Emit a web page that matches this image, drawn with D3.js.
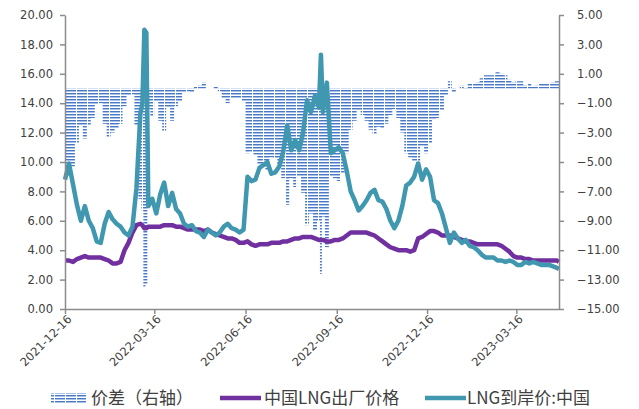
<!DOCTYPE html>
<html>
<head>
<meta charset="utf-8">
<script src="https://cdn.jsdelivr.net/npm/d3@7"></script>
<style>
  html, body { margin: 0; padding: 0; background: #fff; }
  svg { display: block; }
</style>
</head>
<body>
<div id="chart"></div>
<script>
// dates sampled every ~4 days (extra points around the two spikes)
const dates = [
  "2021-12-16","2021-12-20","2021-12-24","2021-12-28",
  "2022-01-01","2022-01-05","2022-01-09","2022-01-13","2022-01-17","2022-01-21","2022-01-25","2022-01-29",
  "2022-02-02","2022-02-06","2022-02-10","2022-02-14","2022-02-18","2022-02-22","2022-02-26",
  "2022-03-02","2022-03-04","2022-03-06","2022-03-08","2022-03-10","2022-03-14","2022-03-18","2022-03-22","2022-03-26","2022-03-30",
  "2022-04-03","2022-04-07","2022-04-11","2022-04-15","2022-04-19","2022-04-23","2022-04-27",
  "2022-05-01","2022-05-05","2022-05-09","2022-05-13","2022-05-17","2022-05-21","2022-05-25","2022-05-29",
  "2022-06-02","2022-06-06","2022-06-10","2022-06-14","2022-06-18","2022-06-22","2022-06-26","2022-06-30",
  "2022-07-04","2022-07-08","2022-07-12","2022-07-16","2022-07-20","2022-07-24","2022-07-28",
  "2022-08-01","2022-08-05","2022-08-09","2022-08-13","2022-08-17","2022-08-21","2022-08-25","2022-08-29","2022-08-31",
  "2022-09-02","2022-09-06","2022-09-10","2022-09-14","2022-09-18","2022-09-22","2022-09-26","2022-09-30",
  "2022-10-04","2022-10-08","2022-10-12","2022-10-16","2022-10-20","2022-10-24","2022-10-28",
  "2022-11-01","2022-11-05","2022-11-09","2022-11-13","2022-11-17","2022-11-21","2022-11-25","2022-11-29",
  "2022-12-03","2022-12-07","2022-12-11","2022-12-15","2022-12-19","2022-12-23","2022-12-27","2022-12-31",
  "2023-01-04","2023-01-08","2023-01-12","2023-01-16","2023-01-20","2023-01-24","2023-01-28",
  "2023-02-01","2023-02-05","2023-02-09","2023-02-13","2023-02-17","2023-02-21","2023-02-25",
  "2023-03-01","2023-03-05","2023-03-09","2023-03-13","2023-03-17","2023-03-21","2023-03-25","2023-03-29",
  "2023-04-02","2023-04-06","2023-04-10","2023-04-14","2023-04-18","2023-04-22","2023-04-26","2023-04-28"
];

// LNG到岸价:中国 (left axis)
const lngLanded = [
  8.8, 9.9, 8.5, 7.1,
  6.0, 7.0, 6.0, 5.5, 4.6, 4.5, 5.8, 6.6,
  6.1, 5.8, 5.6, 5.2, 5.0, 5.6, 8.2,
  13.3, 14.0, 19.0, 18.8, 7.0, 7.5, 6.5, 7.8, 8.6, 7.0,
  7.9, 6.8, 6.5, 5.8, 5.6, 5.7, 5.3,
  5.2, 4.9, 5.4, 5.2, 5.0, 5.2, 5.6, 5.8,
  5.5, 5.4, 5.2, 5.4, 9.0, 8.7, 8.8, 9.6,
  9.8, 10.0, 9.2, 9.3, 9.7, 10.7, 12.5,
  10.8, 11.5, 10.8, 12.0, 14.2, 13.4, 14.5, 13.7, 17.3,
  13.4, 15.4, 10.6, 10.8, 11.0, 10.6, 9.4, 8.0,
  7.4, 6.7, 7.0, 7.4, 7.9, 8.1, 7.4,
  7.3, 6.8, 6.0, 5.5, 6.0, 7.0, 8.4, 8.6,
  9.0, 9.9, 8.8, 9.5, 9.0, 7.4, 7.2, 6.5,
  5.5, 4.5, 5.2, 4.8, 4.5, 4.7, 4.3,
  4.2, 4.0, 3.7, 3.5, 3.5, 3.5, 3.3,
  3.3, 3.2, 3.3, 3.2, 3.0, 3.0, 3.2, 3.1,
  3.2, 3.1, 3.0, 3.0, 3.0, 2.9, 2.8, 2.7
];

// 中国LNG出厂价格 (left axis)
const lngExFactory = [
  3.3, 3.3, 3.2, 3.4,
  3.5, 3.6, 3.5, 3.5, 3.5, 3.5, 3.4, 3.3,
  3.1, 3.1, 3.2, 4.0, 4.5, 5.2, 5.7,
  5.8, 5.7, 5.5, 5.5, 5.6, 5.6, 5.6, 5.6, 5.7, 5.7,
  5.7, 5.6, 5.6, 5.5, 5.4, 5.4, 5.4,
  5.4, 5.3, 5.4, 5.2, 5.1, 5.0, 4.9, 4.8,
  4.8, 4.7, 4.5, 4.5, 4.6, 4.4, 4.3, 4.4,
  4.4, 4.4, 4.5, 4.5, 4.5, 4.6, 4.6,
  4.7, 4.8, 4.8, 4.9, 4.9, 4.9, 4.8, 4.7, 4.7,
  4.7, 4.6, 4.6, 4.7, 4.7, 4.8, 5.0, 5.2,
  5.2, 5.2, 5.2, 5.2, 5.1, 5.0, 4.8,
  4.6, 4.4, 4.2, 4.1, 4.0, 4.0, 4.0, 3.9,
  4.0, 4.8, 4.9, 5.1, 5.3, 5.3, 5.2, 5.0,
  5.0, 5.0, 4.9, 4.8, 4.7, 4.6, 4.6,
  4.5, 4.4, 4.4, 4.4, 4.4, 4.4, 4.4,
  4.3, 4.1, 3.9, 3.6, 3.5, 3.5, 3.4, 3.4,
  3.3, 3.3, 3.3, 3.3, 3.3, 3.3, 3.3, 3.2
];

// 价差 (right axis)
const spread = [
  -5.5, -6.0, -5.3, -3.7,
  -2.5, -3.4, -2.5, -2.0, -1.1, -1.0, -2.4, -3.3,
  -3.0, -2.7, -2.4, -1.2, -0.5, -0.4, -2.5,
  -7.5, -8.3, -13.5, -13.3, -1.4, -1.9, -0.9, -2.2, -2.9, -1.3,
  -2.2, -1.2, -0.9, -0.3, -0.2, -0.3, 0.1,
  0.2, 0.4, 0.0, 0.0, 0.1, -0.2, -0.7, -1.0,
  -0.7, -0.7, -0.7, -0.9, -4.4, -4.3, -4.5, -5.2,
  -5.4, -5.6, -4.7, -4.8, -5.2, -6.1, -7.9,
  -6.1, -6.7, -6.0, -7.1, -9.3, -8.5, -9.7, -9.0, -12.6,
  -8.7, -10.8, -6.0, -6.1, -6.3, -5.8, -4.4, -2.8,
  -2.2, -1.5, -1.8, -2.2, -2.8, -3.1, -2.6,
  -2.7, -2.4, -1.8, -1.4, -2.0, -3.0, -4.4, -4.7,
  -5.0, -5.1, -3.9, -4.4, -3.7, -2.1, -2.0, -1.5,
  -0.5, 0.5, -0.3, 0.0, 0.2, -0.1, 0.3,
  0.3, 0.4, 0.7, 0.9, 0.9, 0.9, 1.1,
  1.0, 0.9, 0.6, 0.4, 0.5, 0.5, 0.2, 0.3,
  0.1, 0.2, 0.3, 0.3, 0.3, 0.4, 0.5, 0.5
];

const xTickDates = ["2021-12-16", "2022-03-16", "2022-06-16", "2022-09-16", "2022-12-16", "2023-03-16"];
const leftTicks = [0, 2, 4, 6, 8, 10, 12, 14, 16, 18, 20];
const rightTicks = [-15, -13, -11, -9, -7, -5, -3, -1, 1, 3, 5];
const seriesNames = ["价差（右轴）", "中国LNG出厂价格", "LNG到岸价:中国"];

const W = 639, H = 409;
const plot = { left: 65, right: 559, top: 15, bottom: 309 };
const axisColor = "#8c8c8c";
const textColor = "#404040";
const purple = "#7030a0";
const teal = "#3f97b0";
const numFont = "'DejaVu Sans', sans-serif";
const cjkFont = "'Noto Sans CJK SC', 'Noto Sans', sans-serif";

const parse = d3.timeParse("%Y-%m-%d");
const rows = dates.map((d, i) => ({
  date: parse(d),
  landed: lngLanded[i],
  factory: lngExFactory[i],
  spread: spread[i]
}));

const svg = d3.select("#chart").append("svg")
  .attr("width", W)
  .attr("height", H)
  .style("background", "#fff");

// hatched fill used by the spread bars
const defs = svg.append("defs");
const pat = defs.append("pattern")
  .attr("id", "hatch")
  .attr("patternUnits", "userSpaceOnUse")
  .attr("width", 11)
  .attr("height", 3);
pat.append("rect").attr("width", 11).attr("height", 3).attr("fill", "#fff");
pat.append("rect").attr("y", 0).attr("width", 10).attr("height", 1).attr("fill", "#4a78c4");
pat.append("rect").attr("y", 1).attr("width", 10).attr("height", 1).attr("fill", "#a9c2e8");

const x = d3.scaleTime()
  .domain([parse("2021-12-16"), parse("2023-04-28")])
  .range([plot.left, plot.right]);

const yL = d3.scaleLinear().domain([0, 20]).range([plot.bottom, plot.top]);
const yR = d3.scaleLinear().domain([-15, 5]).range([plot.bottom, plot.top]);

// spread bars (right axis)
const barArea = d3.area()
  .x(d => x(d.date))
  .y0(yR(0))
  .y1(d => yR(d.spread))
  .curve(d3.curveStep);

svg.append("path")
  .datum(rows)
  .attr("d", barArea)
  .attr("fill", "url(#hatch)");

// lines
const lineFactory = d3.line().x(d => x(d.date)).y(d => yL(d.factory));
const lineLanded = d3.line().x(d => x(d.date)).y(d => yL(d.landed));

svg.append("path")
  .datum(rows)
  .attr("d", lineFactory)
  .attr("fill", "none")
  .attr("stroke", purple)
  .attr("stroke-width", 4.5)
  .attr("stroke-linejoin", "round");

svg.append("path")
  .datum(rows)
  .attr("d", lineLanded)
  .attr("fill", "none")
  .attr("stroke", teal)
  .attr("stroke-width", 4.5)
  .attr("stroke-linejoin", "round");

// axes
function styleAxis(g) {
  g.select(".domain").attr("stroke", axisColor).attr("stroke-width", 1.5);
  g.selectAll(".tick line").attr("stroke", axisColor).attr("stroke-width", 1.5);
  g.selectAll(".tick text")
    .attr("fill", textColor)
    .style("font-family", numFont)
    .style("font-size", "11.5px");
}

svg.append("g")
  .attr("transform", `translate(${plot.left},0)`)
  .call(d3.axisLeft(yL).tickValues(leftTicks).tickFormat(d3.format(".2f"))
    .tickSize(5).tickSizeOuter(0).tickPadding(7))
  .call(styleAxis);

svg.append("g")
  .attr("transform", `translate(${plot.right},0)`)
  .call(d3.axisRight(yR).tickValues(rightTicks).tickFormat(d3.format(".2f"))
    .tickSize(5).tickSizeOuter(0).tickPadding(13))
  .call(styleAxis);

const xAxis = svg.append("g")
  .attr("transform", `translate(0,${plot.bottom})`)
  .call(d3.axisBottom(x).tickValues(xTickDates.map(parse)).tickFormat(d3.timeFormat("%Y-%m-%d"))
    .tickSize(5).tickSizeOuter(0))
  .call(styleAxis);

xAxis.selectAll(".tick text")
  .attr("text-anchor", "end")
  .attr("dy", "0.35em")
  .attr("transform", "translate(4,8) rotate(-45)")
  .attr("y", 0)
  .attr("x", 0);

// legend
const legend = svg.append("g").attr("transform", "translate(0,398)");

legend.append("rect")
  .attr("x", 51).attr("y", -5)
  .attr("width", 35).attr("height", 10)
  .attr("fill", "url(#hatch)");

legend.append("line")
  .attr("x1", 220).attr("x2", 261)
  .attr("stroke", purple).attr("stroke-width", 4.5);

legend.append("line")
  .attr("x1", 425).attr("x2", 466)
  .attr("stroke", teal).attr("stroke-width", 4.5);

const legendX = [91, 264, 467];
legend.selectAll("text.lg")
  .data(seriesNames)
  .enter()
  .append("text")
  .attr("class", "lg")
  .attr("x", (d, i) => legendX[i])
  .attr("y", 0)
  .attr("dy", "0.35em")
  .attr("fill", textColor)
  .style("font-family", cjkFont)
  .style("font-size", "17px")
  .text(d => d);

if (dates.length !== lngLanded.length || dates.length !== lngExFactory.length || dates.length !== spread.length) {
  console.warn("length mismatch", dates.length, lngLanded.length, lngExFactory.length, spread.length);
}
</script>
</body>
</html>
